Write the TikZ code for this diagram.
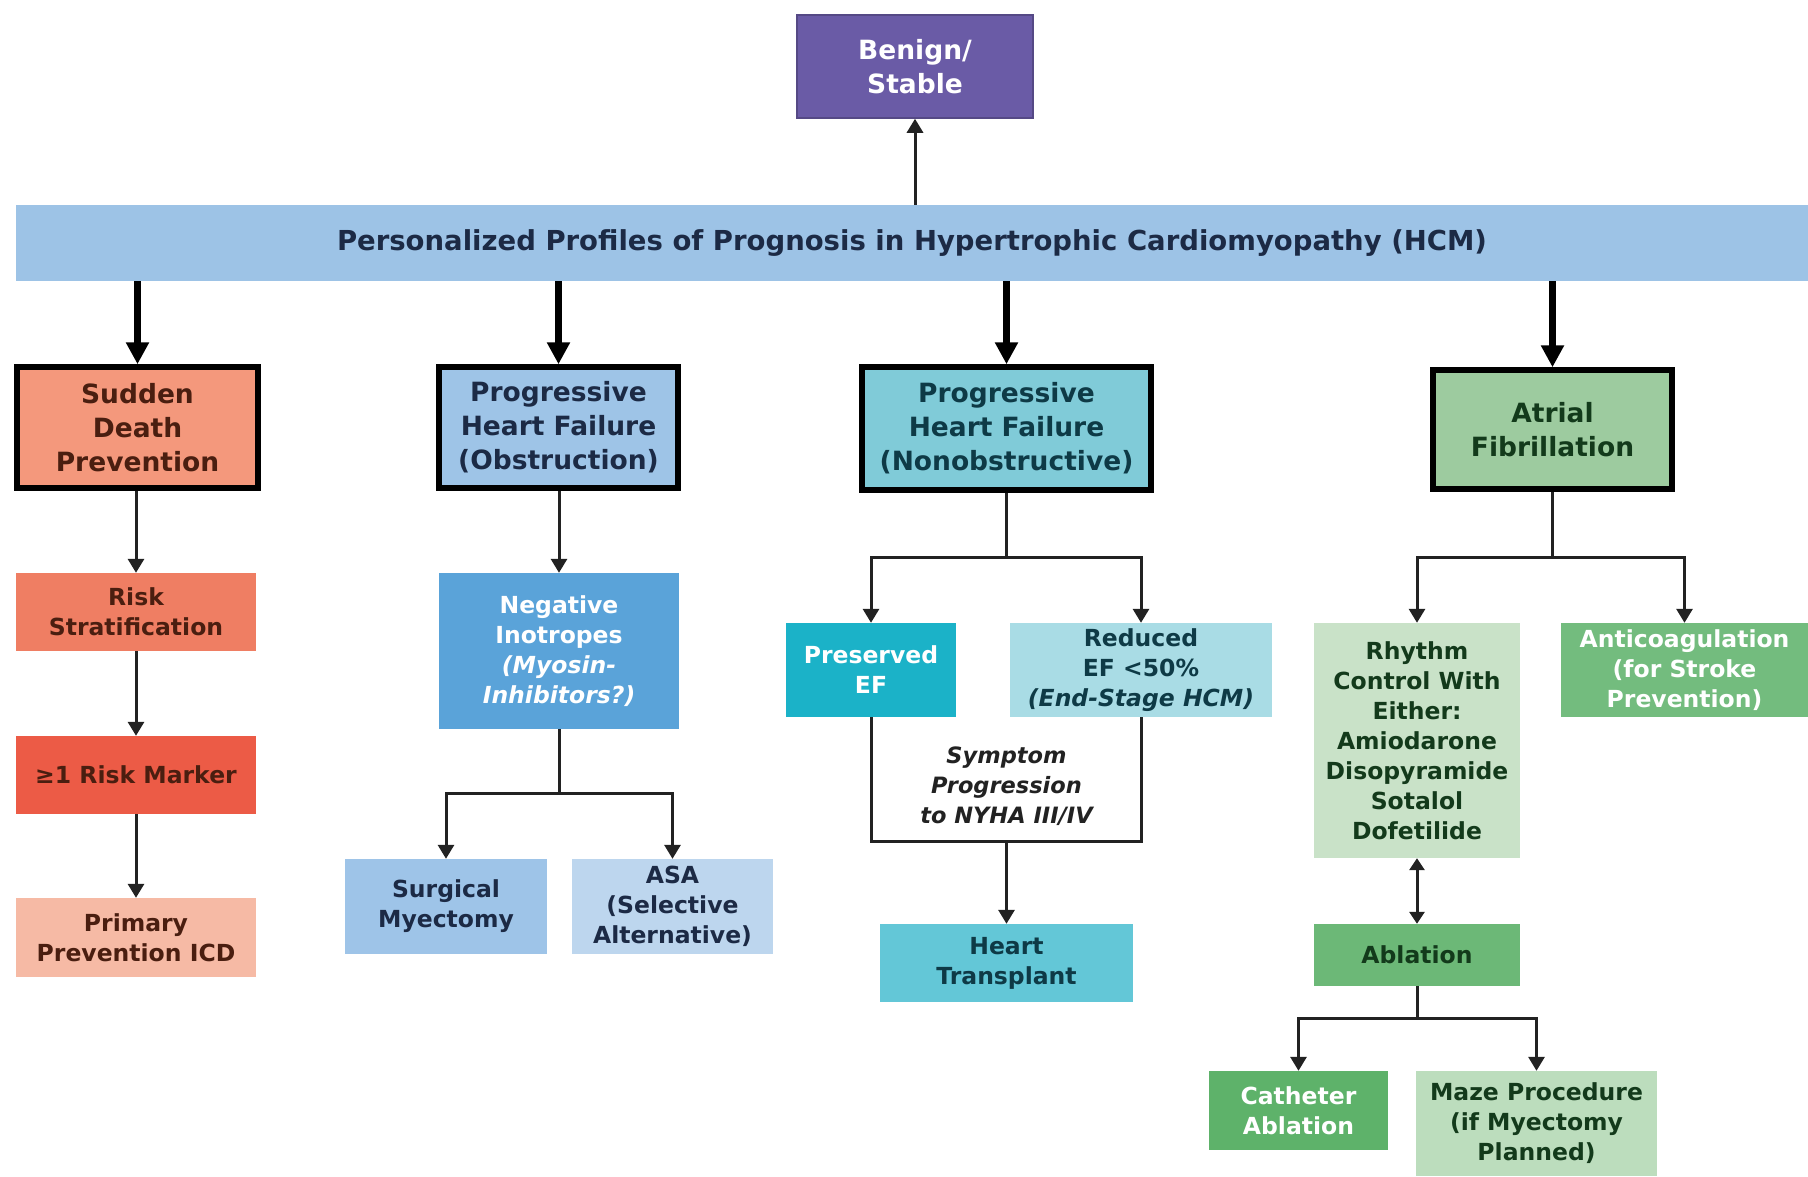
\documentclass[tikz,border=0pt]{standalone}
\usepackage{fontspec}
\setmainfont{DejaVu Sans}
\usetikzlibrary{arrows.meta}

% palette
\definecolor{purpleBox}{HTML}{6A5BA6}
\definecolor{bannerBlue}{HTML}{9DC3E6}
\definecolor{navyText}{HTML}{1C2A45}
\definecolor{sdFill}{HTML}{F4987C}
\definecolor{rsFill}{HTML}{EF7E63}
\definecolor{rmFill}{HTML}{EC5B46}
\definecolor{ppiFill}{HTML}{F6BAA5}
\definecolor{brownText}{HTML}{4A1E10}
\definecolor{obsFill}{HTML}{9EC4E7}
\definecolor{niFill}{HTML}{5AA3D9}
\definecolor{smFill}{HTML}{9EC4E8}
\definecolor{asaFill}{HTML}{BDD6EE}
\definecolor{nobFill}{HTML}{80CBD8}
\definecolor{pefFill}{HTML}{1BB2C8}
\definecolor{refFill}{HTML}{A9DCE5}
\definecolor{htFill}{HTML}{63C7D7}
\definecolor{tealText}{HTML}{0E3A46}
\definecolor{afFill}{HTML}{9DCB9F}
\definecolor{rcFill}{HTML}{C9E2C8}
\definecolor{antiFill}{HTML}{73BC7E}
\definecolor{ablFill}{HTML}{6CB877}
\definecolor{cathFill}{HTML}{5EB26A}
\definecolor{mazeFill}{HTML}{BCDDBD}
\definecolor{greenText}{HTML}{133A1B}
\definecolor{lineGray}{HTML}{222222}

\newcommand{\headfont}{\fontsize{26.5}{34}\selectfont\bfseries}
\newcommand{\subfont}{\fontsize{23.5}{30}\selectfont\bfseries}

\begin{document}
\begin{tikzpicture}[x=1pt,y=-1pt,
  box/.style={rectangle, inner sep=0pt, align=center, font=\subfont},
  headbox/.style={rectangle, inner sep=0pt, align=center, font=\headfont,
    draw=black, line width=5.5pt},
  conn/.style={draw=lineGray, line width=3pt,
    -{Triangle[length=14pt,width=16pt]}},
  plain/.style={draw=lineGray, line width=3pt},
  bothconn/.style={draw=lineGray, line width=3pt,
    {Triangle[length=12pt,width=15pt]}-{Triangle[length=12pt,width=15pt]}},
  bigconn/.style={draw=black, line width=7pt,
    -{Triangle[length=22pt,width=22pt]}}
]
\useasboundingbox[fill=white] (0,0) rectangle (1808,1176);

% top of the tree
\node[box, font=\headfont, fill=purpleBox, draw=purpleBox!80!black, line width=1.5pt,
  text=white, minimum width=236pt, minimum height=103pt] (benign) at (915,66.5)
  {Benign/\\Stable};
\node[rectangle, inner sep=0pt, fill=bannerBlue, minimum width=1792pt,
  minimum height=76pt, text=navyText, font=\fontsize{27.5}{30}\selectfont\bfseries]
  (banner) at (912,243)
  {Personalized Profiles of Prognosis in Hypertrophic Cardiomyopathy (HCM)};
\draw[conn] (benign |- banner.north) -- (benign.south);

% the four profiles
\node[headbox, fill=sdFill, text=brownText, minimum width=241pt, minimum height=121pt]
  (sd) at (137.5,427.5) {Sudden\\Death\\Prevention};
\node[headbox, fill=obsFill, text=navyText, minimum width=239pt, minimum height=121pt]
  (obs) at (558.5,427.5) {Progressive\\Heart Failure\\(Obstruction)};
\node[headbox, fill=nobFill, text=tealText, minimum width=289pt, minimum height=123pt]
  (nob) at (1006.5,428.5) {Progressive\\Heart Failure\\(Nonobstructive)};
\node[headbox, fill=afFill, text=greenText, minimum width=239pt, minimum height=119pt]
  (af) at (1552.5,429.5) {Atrial\\Fibrillation};

\foreach \n in {sd,obs,nob,af}
  \draw[bigconn] (\n |- banner.south) -- (\n.north);

% sudden death prevention
\node[box, fill=rsFill, text=brownText, minimum width=240pt, minimum height=78pt]
  (rs) at (136,612) {Risk\\Stratification};
\node[box, fill=rmFill, text=brownText, minimum width=240pt, minimum height=78pt]
  (rm) at (136,775) {≥1 Risk Marker};
\node[box, fill=ppiFill, text=brownText, minimum width=240pt, minimum height=79pt]
  (ppi) at (136,937.5) {Primary\\Prevention ICD};
\draw[conn] (sd.south -| rs) -- (rs.north);
\draw[conn] (rs.south) -- (rm.north);
\draw[conn] (rm.south) -- (ppi.north);

% heart failure with obstruction
\node[box, fill=niFill, text=white, minimum width=240pt, minimum height=156pt]
  (ni) at (559,651) {Negative\\Inotropes\\\itshape(Myosin-\\\itshape Inhibitors?)};
\node[box, fill=smFill, text=navyText, minimum width=202pt, minimum height=95pt]
  (sm) at (446,906.5) {Surgical\\Myectomy};
\node[box, fill=asaFill, text=navyText, minimum width=201pt, minimum height=95pt]
  (asa) at (672.5,906.5) {ASA\\(Selective\\Alternative)};
\draw[conn] (obs.south -| ni) -- (ni.north);
\coordinate (s2) at (559,793);
\draw[plain] (ni.south) -- (s2);
\draw[conn] (s2) -| (sm.north);
\draw[conn] (s2) -| (asa.north);

% nonobstructive heart failure
\node[box, fill=pefFill, text=white, minimum width=170pt, minimum height=94pt]
  (pef) at (871,670) {Preserved\\EF};
\node[box, fill=refFill, text=tealText, minimum width=262pt, minimum height=94pt]
  (ref) at (1141,670) {Reduced\\EF <50\%\\\itshape(End-Stage HCM)};
\coordinate (s3) at (1006.5,557);
\draw[plain] (nob.south) -- (s3);
\draw[conn] (s3) -| (pef.north);
\draw[conn] (s3) -| (ref.north);
\node[box, font=\fontsize{22.5}{30}\selectfont\bfseries\itshape, text=lineGray]
  (sym) at (1006.5,786) {Symptom\\Progression\\to NYHA III/IV};
\coordinate (j3) at (1006.5,841);
\draw[plain] (pef.south) |- (j3) -| (ref.south);
\node[box, fill=htFill, text=tealText, minimum width=253pt, minimum height=78pt]
  (ht) at (1006.5,963) {Heart\\Transplant};
\draw[conn] (j3) -- (ht.north);

% atrial fibrillation
\node[box, fill=rcFill, text=greenText, minimum width=206pt, minimum height=235pt]
  (rc) at (1417,740.5)
  {Rhythm\\Control With\\Either:\\Amiodarone\\Disopyramide\\Sotalol\\Dofetilide};
\node[box, fill=antiFill, text=white, minimum width=247pt, minimum height=94pt]
  (anti) at (1684.5,670) {Anticoagulation\\(for Stroke\\Prevention)};
\coordinate (s4) at (1552.5,557);
\draw[plain] (af.south) -- (s4);
\draw[conn] (s4) -| (rc.north);
\draw[conn] (s4) -| (anti.north);
\node[box, fill=ablFill, text=greenText, minimum width=206pt, minimum height=62pt]
  (abl) at (1417,955) {Ablation};
\draw[bothconn] (rc.south) -- (abl.north);
\node[box, fill=cathFill, text=white, minimum width=179pt, minimum height=79pt]
  (cath) at (1298.5,1110.5) {Catheter\\Ablation};
\node[box, fill=mazeFill, text=greenText, minimum width=241pt, minimum height=105pt]
  (maze) at (1536.5,1123.5) {Maze Procedure\\(if Myectomy\\Planned)};
\coordinate (s5) at (1417,1018);
\draw[plain] (abl.south) -- (s5);
\draw[conn] (s5) -| (cath.north);
\draw[conn] (s5) -| (maze.north);
\end{tikzpicture}
\end{document}
